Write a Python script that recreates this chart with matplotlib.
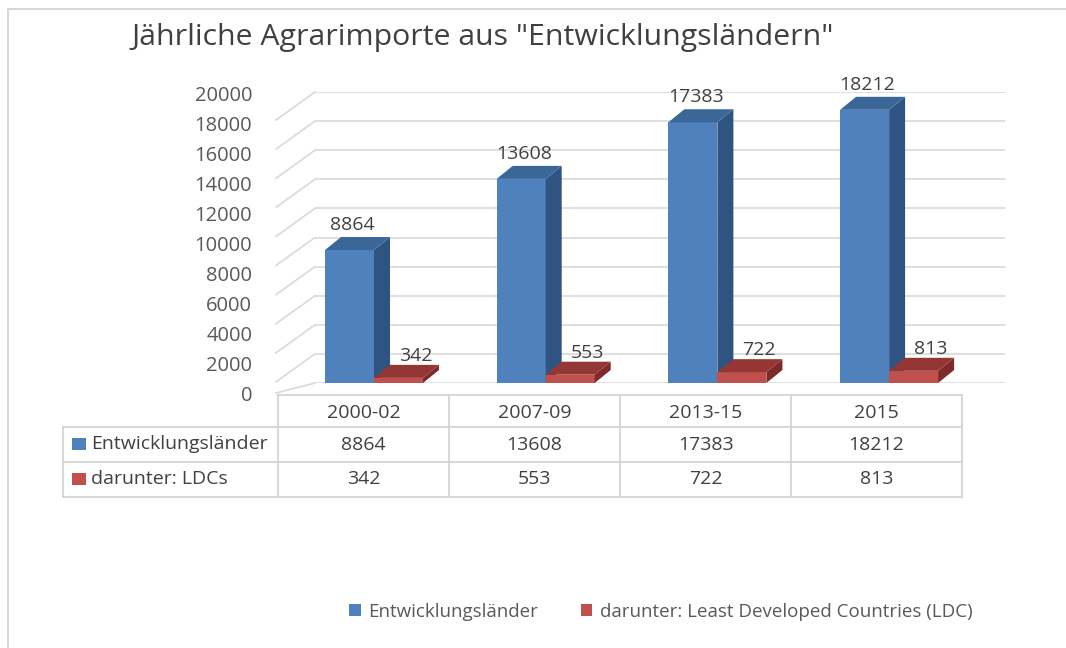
import matplotlib
matplotlib.use('Agg')
import matplotlib.pyplot as plt
import matplotlib.transforms as mtransforms
from matplotlib.patches import Polygon, Rectangle
from matplotlib.lines import Line2D

plt.rcParams['font.family'] = ['Open Sans', 'DejaVu Sans']

# Daten
kategorien = ['2000-02', '2007-09', '2013-15', '2015']
entwicklung = [8864, 13608, 17383, 18212]
ldc = [342, 553, 722, 813]
zeilen = ['Entwicklungsländer', 'darunter: LDCs']
legende = ['Entwicklungsländer', 'darunter: Least Developed Countries (LDC)']
titel = 'Jährliche Agrarimporte aus "Entwicklungsländern"'

W, H = 1066, 648
BLAU = '#4F81BD'; BLAU_S = '#2F5482'; BLAU_T = '#3B6798'
ROT = '#C0504D'; ROT_S = '#7E2A28'; ROT_T = '#943634'
TXT = '#404040'; GRID = '#D9D9D9'


def fx(px): return px / W
def fy(py): return 1 - py / H


fig = plt.figure(figsize=(W / 100, H / 100), dpi=100)
fig.patch.set_facecolor('white')

# Rahmen
fig.add_artist(Rectangle((fx(8), fy(1000)), fx(1200), fy(9) - fy(1000), fill=False,
                         ec='#D0D0D0', lw=1.2, transform=fig.transFigure))

PX = 171.7                       # px pro Kategorie
ax_l, ax_r = 280, 1005
x0 = -0.28 - 45 / PX
xlim = (x0, x0 + (ax_r - ax_l) / PX)
ticks = list(range(0, 20001, 2000))

# Rückwand mit Gitter
wb, wt = 383, 92
wand = fig.add_axes([fx(ax_l), fy(wb), fx(ax_r - ax_l), fy(wt) - fy(wb)])
wand.set_xlim(*xlim)
wand.set_ylim(0, 20000)
wand.axis('off')
vpp_w = 20000 / (wb - wt)
xback = x0 + 35 / PX
wand.hlines(ticks, xback, xlim[1], color=GRID, lw=1.2, zorder=0)
for t in ticks[1:]:
    wand.plot([x0 - 4 / PX, xback], [t - 28 * vpp_w, t], color=GRID, lw=1.2, clip_on=False)
wand.plot([x0 - 4 / PX, xback], [-10 * vpp_w, 0], color=GRID, lw=1.2, clip_on=False)

# Säulen (vorne, etwas größerer Maßstab) + Achsenbeschriftung
bb, bt = 383, 83
ax = fig.add_axes([fx(ax_l), fy(bb), fx(ax_r - ax_l), fy(bt) - fy(bb)])
ax.set_xlim(*xlim)
ax.set_ylim(0, 20000)
for s in ax.spines.values():
    s.set_visible(False)
ax.patch.set_alpha(0)
ax.set_xticks([])
ax.set_yticks(ticks)
ax.tick_params(axis='y', length=0, pad=20, labelsize=14.5, labelcolor='#595959')
versatz = mtransforms.ScaledTranslation(0, -0.13, fig.dpi_scale_trans)
for lab in ax.get_yticklabels():
    lab.set_va('center')
    lab.set_transform(lab.get_transform() + versatz)
vpp = 20000 / (bb - bt)

bw = 49 / PX
DX, DY = 16 / PX, 13 * vpp


def quader(x, h, col_f, col_s, col_t, z):
    ax.bar(x, h, width=bw, align='edge', color=col_f, zorder=z)
    ax.add_patch(Polygon([(x + bw, 0), (x + bw + DX, DY), (x + bw + DX, h + DY), (x + bw, h)],
                         closed=True, fc=col_s, ec='none', zorder=z))
    ax.add_patch(Polygon([(x, h), (x + bw, h), (x + bw + DX, h + DY), (x + DX, h + DY)],
                         closed=True, fc=col_t, ec='none', zorder=z))


for i in range(len(kategorien)):
    xb = i - 0.28
    quader(xb, entwicklung[i], BLAU, BLAU_S, BLAU_T, 3)
    quader(xb + bw, ldc[i], ROT, ROT_S, ROT_T, 4)
    ax.annotate(f'{entwicklung[i]}', (xb + bw / 2 + 3 / PX, entwicklung[i] + DY), xytext=(0, 2),
                textcoords='offset points', ha='center', va='bottom', fontsize=14, color=TXT)
    ax.annotate(f'{ldc[i]}', (xb + bw * 1.5 + 17 / PX, ldc[i] + DY), xytext=(0, 0),
                textcoords='offset points', ha='center', va='bottom', fontsize=14, color=TXT)

# Titel
fig.text(fx(131), fy(37), titel, ha='left', va='center', fontsize=21.8, color=TXT)

# Datentabelle
tl, cw = 278, 171
rows_y = [395, 427, 462, 497]
lab_l = 63
tcol = '#D4D4D4'


def linie(xa, ya, xb_, yb):
    fig.add_artist(Line2D([fx(xa), fx(xb_)], [fy(ya), fy(yb)], color=tcol, lw=1.3,
                          transform=fig.transFigure))


linie(tl, rows_y[0], tl + cw * 4, rows_y[0])
for y in rows_y[1:]:
    linie(lab_l, y, tl + cw * 4, y)
for k in range(5):
    linie(tl + cw * k, rows_y[0], tl + cw * k, rows_y[3])
linie(lab_l, rows_y[1], lab_l, rows_y[3])

for i, k in enumerate(kategorien):
    cx = tl + cw * i + cw / 2
    fig.text(fx(cx), fy(413), k, ha='center', va='center', fontsize=14, color=TXT)
    fig.text(fx(cx), fy(445), f'{entwicklung[i]}', ha='center', va='center', fontsize=14, color=TXT)
    fig.text(fx(cx), fy(479), f'{ldc[i]}', ha='center', va='center', fontsize=14, color=TXT)

for j, (lab, c) in enumerate(zip(zeilen, [BLAU, ROT])):
    yc = [444, 479][j]
    fig.add_artist(Rectangle((fx(72), fy(yc + 6)), fx(14), fy(yc - 6) - fy(yc + 6), fc=c, ec='none',
                             transform=fig.transFigure))
    fig.text(fx(91), fy(yc), lab, ha='left', va='center', fontsize=14, color=TXT)

# Legende
fig.legend([Rectangle((0, 0), 1, 1, fc=BLAU), Rectangle((0, 0), 1, 1, fc=ROT)], legende,
           loc='center', bbox_to_anchor=(fx(661), fy(612)), ncol=2, frameon=False,
           fontsize=13.5, handlelength=0.6, handleheight=0.6, handletextpad=0.4,
           columnspacing=2.3, labelcolor='#595959')

fig.savefig('out.png', dpi=100)
